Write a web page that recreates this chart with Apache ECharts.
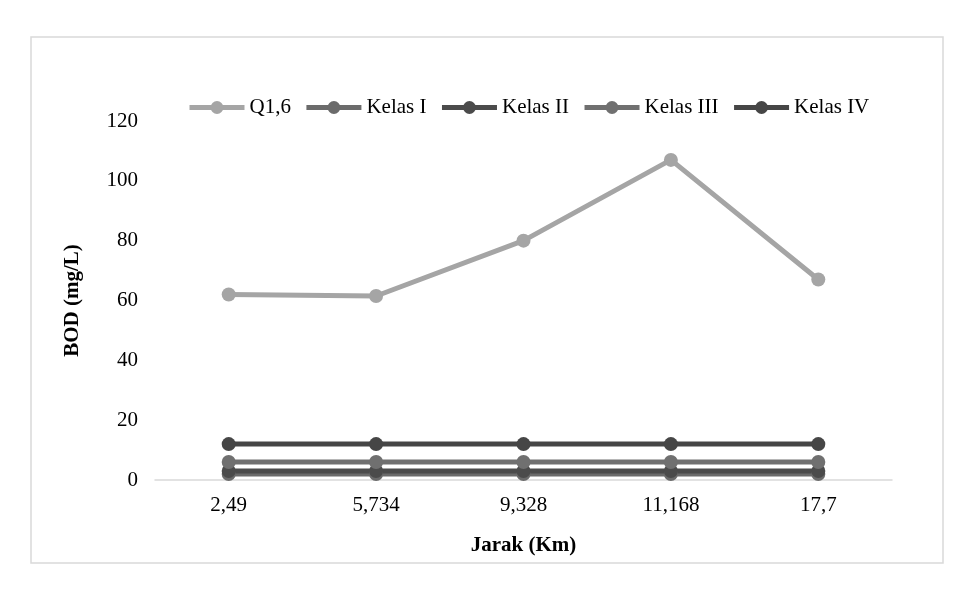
<!DOCTYPE html>
<html>
<head>
<meta charset="utf-8">
<script src="https://cdn.jsdelivr.net/npm/echarts@6/dist/echarts.min.js"></script>
<style>
  html, body { margin: 0; padding: 0; background: #fff; }
  #main { width: 972px; height: 591px; }
</style>
</head>
<body>
<div id="main"></div>
<script>
// data
var categories = ['2,49', '5,734', '9,328', '11,168', '17,7'];
var q16 = [62, 61.5, 80, 107, 67];
var kelas1 = [2, 2, 2, 2, 2];
var kelas2 = [3, 3, 3, 3, 3];
var kelas3 = [6, 6, 6, 6, 6];
var kelas4 = [12, 12, 12, 12, 12];
var yTicks = [0, 20, 40, 60, 80, 100, 120];

var font = '"Liberation Serif", "Times New Roman", serif';

function line(name, data, color) {
    return {
        name: name,
        type: 'line',
        data: data,
        symbol: 'circle',
        symbolSize: 14,
        lineStyle: { width: 5, color: color },
        itemStyle: { color: color },
        emphasis: { disabled: true }
    }
}

var chart = echarts.init(document.getElementById('main'));
chart.setOption({
    animation: false,
    backgroundColor: '#fff',
    graphic: [{
        type: 'rect',
        shape: { x: 31, y: 37, width: 912, height: 526 },
        style: { fill: 'none', stroke: '#d9d9d9', lineWidth: 1.5 },
        silent: true
    }],
    legend: {
        top: 92,
        left: 182,
        itemWidth: 55,
        itemHeight: 16,
        itemGap: 13,
        lineStyle: { width: 5 },
        textStyle: { fontFamily: font, fontSize: 21, color: '#000' },
        data: ['Q1,6', 'Kelas I', 'Kelas II', 'Kelas III', 'Kelas IV']
    },
    grid: { left: 155, right: 80, top: 121, bottom: 111 },
    xAxis: {
        type: 'category',
        data: categories,
        name: 'Jarak (Km)',
        nameLocation: 'middle',
        nameGap: 55,
        nameTextStyle: { fontFamily: font, fontSize: 21, fontWeight: 'bold', color: '#000' },
        axisLine: { lineStyle: { color: '#d9d9d9', width: 1.5 } },
        axisTick: { show: false },
        axisLabel: { fontFamily: font, fontSize: 21, color: '#000', margin: 15 }
    },
    yAxis: {
        type: 'value',
        min: yTicks[0],
        max: yTicks[yTicks.length - 1],
        interval: 20,
        name: 'BOD (mg/L)',
        nameLocation: 'middle',
        nameGap: 72,
        nameTextStyle: { fontFamily: font, fontSize: 21, fontWeight: 'bold', color: '#000' },
        axisLine: { show: false },
        axisTick: { show: false },
        splitLine: { show: false },
        axisLabel: { fontFamily: font, fontSize: 21, color: '#000', margin: 17 }
    },
    series: [
        line('Q1,6', q16, '#a5a5a5'),
        line('Kelas I', kelas1, '#6b6b6b'),
        line('Kelas II', kelas2, '#4b4b4b'),
        line('Kelas III', kelas3, '#707070'),
        line('Kelas IV', kelas4, '#464646')
    ]
});
</script>
</body>
</html>
